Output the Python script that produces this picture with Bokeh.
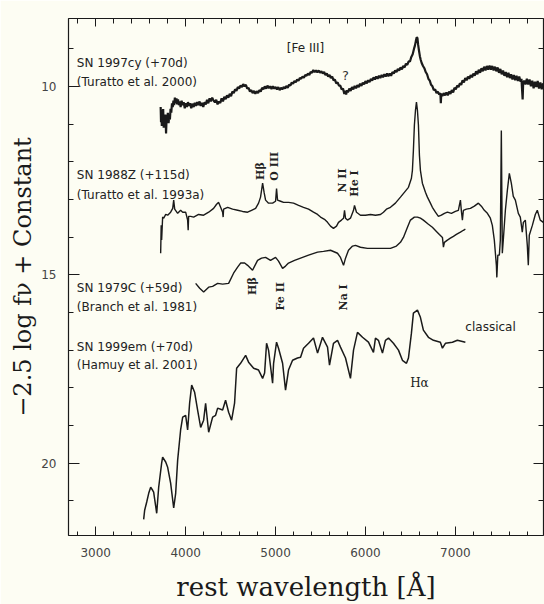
import math
from bokeh.plotting import figure
from bokeh.models import Range1d, LinearAxis, FixedTicker, Label, CustomLabelingPolicy, Title
from bokeh.embed import file_html
from bokeh.resources import INLINE

# ---- spectra: rest wavelength [A] and -2.5 log f_nu + constant ----
sn1997cy_wl = [3722, 3726, 3730, 3735, 3740, 3745, 3750, 3756, 3762, 3768, 3775, 3782, 3788, 3795, 3802, 3810,
               3818, 3825, 3832, 3840, 3848, 3856, 3864, 3872, 3880, 3889, 3898, 3906, 3915, 3925, 3935, 3944,
               3955, 3966, 3978, 3990, 4002, 4014, 4026, 4038, 4050, 4062, 4075, 4089, 4102, 4115, 4128, 4141,
               4155, 4168, 4182, 4196, 4210, 4224, 4238, 4252, 4266, 4280, 4295, 4311, 4326, 4340, 4355, 4370,
               4385, 4400, 4415, 4430, 4445, 4460, 4475, 4490, 4505, 4520, 4535, 4550, 4565, 4580, 4595, 4611,
               4626, 4640, 4655, 4670, 4685, 4700, 4715, 4730, 4745, 4760, 4775, 4790, 4805, 4820, 4835, 4850,
               4865, 4880, 4895, 4910, 4925, 4940, 4955, 4970, 4985, 5000, 5015, 5030, 5045, 5060, 5075, 5090,
               5105, 5120, 5135, 5150, 5165, 5180, 5195, 5210, 5225, 5240, 5255, 5270, 5285, 5300, 5315, 5330,
               5345, 5360, 5375, 5390, 5405, 5420, 5435, 5450, 5465, 5480, 5495, 5510, 5525, 5540, 5555, 5570,
               5585, 5600, 5615, 5630, 5645, 5660, 5675, 5690, 5705, 5720, 5735, 5750, 5765, 5775, 5785, 5795,
               5805, 5820, 5835, 5850, 5865, 5880, 5895, 5910, 5925, 5940, 5955, 5970, 5985, 6000, 6015, 6030,
               6045, 6060, 6075, 6090, 6105, 6120, 6135, 6150, 6165, 6180, 6195, 6210, 6225, 6240, 6255, 6270,
               6285, 6300, 6315, 6330, 6345, 6360, 6375, 6390, 6405, 6420, 6435, 6450, 6465, 6480, 6495, 6510,
               6525, 6540, 6550, 6560, 6570, 6578, 6586, 6595, 6605, 6615, 6625, 6640, 6655, 6670, 6685, 6700,
               6715, 6730, 6745, 6760, 6775, 6790, 6805, 6820, 6833, 6838, 6843, 6855, 6870, 6885, 6900, 6915,
               6930, 6945, 6960, 6975, 6990, 7005, 7020, 7035, 7050, 7065, 7080, 7095, 7110, 7125, 7140, 7155,
               7170, 7185, 7200, 7215, 7230, 7245, 7260, 7275, 7290, 7305, 7320, 7335, 7350, 7365, 7380, 7395,
               7410, 7425, 7440, 7455, 7470, 7485, 7500, 7515, 7530, 7545, 7560, 7575, 7590, 7605, 7620, 7635,
               7650, 7665, 7680, 7695, 7710, 7725, 7735, 7742, 7748, 7754, 7765, 7780, 7795, 7810, 7825, 7840,
               7855, 7870, 7885, 7900, 7915, 7930, 7945, 7960, 7975]
sn1997cy_mag = [10.55, 10.95, 10.62, 11.05, 10.70, 10.85, 10.60, 11.10, 10.80, 11.00, 10.75, 11.25, 10.85, 10.95,
                10.70, 10.98, 10.75, 10.88, 10.60, 10.70, 10.45, 10.55, 10.38, 10.50, 10.30, 10.45, 10.32, 10.48,
                10.35, 10.50, 10.40, 10.55, 10.38, 10.50, 10.42, 10.58, 10.45, 10.55, 10.42, 10.52, 10.45, 10.58,
                10.46, 10.55, 10.44, 10.52, 10.42, 10.50, 10.40, 10.52, 10.44, 10.55, 10.42, 10.48, 10.36, 10.45,
                10.32, 10.40, 10.30, 10.38, 10.42, 10.36, 10.48, 10.40, 10.44, 10.32, 10.40, 10.28, 10.34, 10.24,
                10.30, 10.20, 10.26, 10.14, 10.18, 10.08, 10.12, 10.02, 10.06, 9.98, 10.02, 9.94, 10.00, 9.96,
                10.06, 10.04, 10.14, 10.10, 10.18, 10.12, 10.20, 10.13, 10.18, 10.10, 10.14, 10.04, 10.08, 10.00,
                10.06, 9.98, 10.05, 10.00, 10.07, 10.00, 10.06, 10.02, 10.08, 10.02, 10.10, 10.04, 10.08, 10.02,
                10.06, 9.99, 10.04, 9.96, 9.98, 9.90, 9.93, 9.86, 9.89, 9.82, 9.85, 9.78, 9.80, 9.74, 9.77, 9.70,
                9.72, 9.66, 9.70, 9.62, 9.64, 9.57, 9.62, 9.58, 9.63, 9.58, 9.64, 9.60, 9.66, 9.62, 9.70, 9.66,
                9.74, 9.70, 9.78, 9.74, 9.84, 9.82, 9.92, 9.90, 9.98, 9.98, 10.08, 10.06, 10.20, 10.12, 10.22, 10.10,
                10.16, 10.06, 10.12, 10.02, 10.08, 9.99, 10.05, 9.97, 10.02, 9.93, 9.99, 9.90, 9.95, 9.86, 9.92, 9.84,
                9.89, 9.80, 9.85, 9.76, 9.82, 9.74, 9.80, 9.72, 9.78, 9.70, 9.76, 9.68, 9.74, 9.66, 9.73, 9.66,
                9.72, 9.62, 9.66, 9.58, 9.62, 9.54, 9.58, 9.50, 9.55, 9.46, 9.50, 9.40, 9.43, 9.34, 9.34, 9.22,
                9.15, 9.00, 8.92, 8.80, 8.70, 8.72, 8.90, 9.05, 9.20, 9.30, 9.38, 9.46, 9.52, 9.62, 9.68, 9.80,
                9.85, 9.96, 10.00, 10.10, 10.08, 10.18, 10.14, 10.22, 10.18, 10.45, 10.20, 10.26, 10.18, 10.24, 10.16, 10.24,
                10.14, 10.20, 10.10, 10.16, 10.04, 10.08, 9.98, 10.02, 9.92, 9.96, 9.84, 9.90, 9.78, 9.84, 9.74, 9.80,
                9.70, 9.76, 9.66, 9.72, 9.60, 9.68, 9.56, 9.64, 9.52, 9.60, 9.48, 9.58, 9.46, 9.56, 9.45, 9.56,
                9.46, 9.58, 9.48, 9.60, 9.50, 9.64, 9.54, 9.68, 9.58, 9.72, 9.62, 9.76, 9.64, 9.78, 9.68, 9.82,
                9.70, 9.84, 9.72, 9.86, 9.74, 9.88, 9.80, 10.10, 10.35, 9.90, 9.85, 9.95, 9.80, 9.95, 9.82, 10.00,
                9.85, 10.05, 9.88, 10.02, 9.86, 10.06, 9.90, 10.08, 9.92]

sn1988z_wl = [3722, 3728, 3733, 3744, 3756, 3778, 3800, 3833, 3856, 3867, 3878, 3911, 3944, 3967, 4000, 4022,
              4028, 4033, 4056, 4089, 4144, 4200, 4256, 4311, 4344, 4367, 4389, 4411, 4417, 4422, 4467, 4522,
              4578, 4633, 4689, 4733, 4778, 4811, 4833, 4856, 4872, 4889, 4922, 4967, 5000, 5011, 5022, 5056,
              5089, 5144, 5200, 5256, 5311, 5367, 5422, 5467, 5500, 5544, 5578, 5611, 5644, 5678, 5700, 5733,
              5756, 5767, 5778, 5800, 5833, 5867, 5878, 5900, 5944, 6000, 6056, 6111, 6167, 6200, 6233, 6278,
              6333, 6389, 6444, 6478, 6511, 6522, 6533, 6544, 6556, 6567, 6578, 6589, 6600, 6611, 6633, 6667,
              6689, 6722, 6744, 6778, 6811, 6844, 6878, 6911, 6956, 7000, 7033, 7056, 7067, 7078, 7089, 7122,
              7167, 7211, 7256, 7289, 7322, 7356, 7389, 7411, 7433, 7456, 7461, 7472, 7489, 7500, 7511, 7522,
              7533, 7556, 7578, 7600, 7622, 7644, 7667, 7700, 7722, 7744, 7756, 7778, 7800, 7811, 7822, 7856,
              7889, 7911, 7944, 7978]
sn1988z_mag = [14.43, 13.69, 14.08, 13.47, 13.50, 13.40, 13.42, 13.34, 13.24, 13.02, 13.26, 13.37, 13.29, 13.34,
               13.34, 13.55, 13.82, 13.45, 13.45, 13.47, 13.40, 13.42, 13.34, 13.24, 13.13, 13.08, 13.21, 13.34,
               13.47, 13.26, 13.21, 13.26, 13.29, 13.32, 13.34, 13.29, 13.24, 13.10, 12.94, 12.57, 12.81, 13.02,
               13.10, 13.10, 13.05, 12.71, 13.02, 13.05, 13.08, 13.08, 13.10, 13.16, 13.21, 13.26, 13.34, 13.40,
               13.47, 13.53, 13.61, 13.71, 13.77, 13.71, 13.61, 13.55, 13.50, 13.29, 13.50, 13.55, 13.50, 13.29,
               13.16, 13.34, 13.42, 13.42, 13.40, 13.42, 13.40, 13.34, 13.26, 13.21, 13.10, 12.94, 12.78, 12.68,
               12.44, 12.23, 11.70, 11.03, 10.64, 10.42, 10.64, 11.03, 11.83, 12.23, 12.57, 12.81, 12.94, 13.10,
               13.21, 13.34, 13.45, 13.42, 13.37, 13.34, 13.37, 13.32, 13.29, 13.02, 13.32, 13.55, 13.29, 13.26,
               13.24, 13.18, 13.10, 13.18, 13.29, 13.37, 13.50, 13.69, 14.08, 14.75, 15.07, 14.48, 14.48, 14.08,
               11.17, 14.43, 14.08, 13.29, 12.76, 12.31, 12.57, 12.92, 13.02, 13.37, 13.47, 13.87, 13.61, 13.55,
               14.22, 14.75, 13.95, 13.69, 13.40, 13.29, 13.55, 13.61]

sn1979c_wl = [4111, 4156, 4200, 4256, 4300, 4356, 4411, 4478, 4533, 4578, 4611, 4656, 4689, 4744, 4767, 4800,
              4844, 4889, 4944, 5000, 5033, 5078, 5111, 5144, 5211, 5278, 5367, 5467, 5533, 5611, 5689, 5722,
              5756, 5778, 5811, 5856, 5889, 5944, 6022, 6111, 6189, 6278, 6344, 6389, 6422, 6467, 6500, 6544,
              6578, 6611, 6644, 6700, 6744, 6789, 6822, 6856, 6867, 6878, 6911, 6944, 6978, 7011, 7056, 7089,
              7111]
sn1979c_mag = [15.23, 15.36, 15.46, 15.33, 15.31, 15.23, 15.25, 15.23, 14.96, 14.80, 14.69, 14.69, 14.75, 14.88,
               14.77, 14.62, 14.56, 14.54, 14.62, 14.54, 14.64, 14.83, 14.77, 14.69, 14.62, 14.56, 14.48, 14.40,
               14.38, 14.35, 14.43, 14.54, 14.75, 14.56, 14.35, 14.24, 14.22, 14.27, 14.30, 14.30, 14.30, 14.30,
               14.24, 14.14, 14.01, 13.74, 13.55, 13.47, 13.47, 13.50, 13.55, 13.66, 13.74, 13.85, 13.93, 14.01,
               14.27, 14.14, 14.08, 14.03, 13.98, 13.93, 13.87, 13.82, 13.79]

sn1999em_wl = [3533, 3544, 3567, 3589, 3611, 3633, 3644, 3678, 3700, 3733, 3744, 3778, 3800, 3833, 3867, 3889,
               3911, 3944, 3967, 4000, 4022, 4044, 4067, 4100, 4133, 4167, 4200, 4222, 4256, 4300, 4333, 4356,
               4411, 4444, 4478, 4511, 4544, 4567, 4611, 4667, 4700, 4756, 4811, 4856, 4878, 4900, 4922, 4967,
               4978, 5011, 5033, 5078, 5111, 5144, 5189, 5244, 5278, 5311, 5367, 5422, 5467, 5522, 5578, 5600,
               5644, 5689, 5722, 5778, 5833, 5867, 5911, 5967, 6033, 6089, 6111, 6144, 6189, 6222, 6256, 6311,
               6367, 6411, 6456, 6478, 6511, 6533, 6578, 6611, 6644, 6700, 6756, 6833, 6856, 6889, 6967, 7022,
               7111]
sn1999em_mag = [21.49, 21.25, 21.03, 20.80, 20.64, 20.72, 20.77, 21.33, 20.64, 20.00, 19.84, 19.97, 20.11, 20.53,
                21.19, 20.80, 19.92, 19.12, 18.78, 18.73, 19.12, 18.41, 17.93, 18.12, 18.59, 19.05, 18.86, 18.41,
                19.18, 18.78, 18.73, 18.54, 18.59, 18.33, 18.65, 18.86, 18.41, 17.48, 17.35, 17.14, 17.32, 17.48,
                17.53, 17.75, 17.61, 16.82, 17.00, 17.88, 17.35, 16.79, 16.95, 17.35, 18.06, 17.53, 17.27, 17.21,
                17.19, 16.95, 16.82, 16.68, 17.08, 16.66, 16.92, 17.40, 16.82, 16.74, 16.92, 17.21, 17.75, 17.00,
                16.53, 16.66, 16.79, 17.06, 16.68, 16.74, 17.08, 16.74, 16.68, 16.82, 17.00, 17.27, 17.35, 17.21,
                16.55, 16.02, 15.94, 16.13, 16.47, 16.66, 16.74, 16.79, 16.95, 16.82, 16.79, 16.74, 16.79]

# ---- axis ticks ----
x_major = [3000, 4000, 5000, 6000, 7000]
x_minor = list(range(2800, 8000, 200))
y_major = [10, 15, 20]
y_minor = list(range(9, 22))

BG = "#fdfdf3"
INK = "#1a1a1a"

p = figure(width=544, height=604, output_backend="svg", toolbar_location=None,
           x_range=Range1d(2697, 7980), y_range=Range1d(21.92, 8.20),
           min_border_left=68, min_border_right=1, min_border_top=18, min_border_bottom=69)
p.background_fill_color = BG
p.border_fill_color = BG
p.outline_line_color = INK
p.outline_line_width = 1.2
p.xgrid.visible = False
p.ygrid.visible = False

# spectra
p.line(sn1997cy_wl, sn1997cy_mag, line_color=INK, line_width=2.2)
p.line(sn1988z_wl, sn1988z_mag, line_color=INK, line_width=1.4)
p.line(sn1979c_wl, sn1979c_mag, line_color=INK, line_width=1.4)
p.line(sn1999em_wl, sn1999em_mag, line_color=INK, line_width=1.5)

# mirrored axes carry tick marks only
no_labels = CustomLabelingPolicy(code="return []")

def style_axis(ax, major_len, minor_len, labels=True):
    ax.major_tick_in = major_len
    ax.major_tick_out = 0
    ax.minor_tick_in = minor_len
    ax.minor_tick_out = 0
    ax.major_tick_line_color = INK
    ax.minor_tick_line_color = INK
    ax.axis_line_color = None
    if labels:
        ax.major_label_text_font = "DejaVu Sans"
        ax.major_label_text_font_size = "12px"
        ax.major_label_text_color = "#444444"
        ax.major_label_standoff = 12
        ax.axis_label_text_font = "DejaVu Serif"
        ax.axis_label_text_font_style = "normal"
        ax.axis_label_text_color = INK
    else:
        ax.major_label_policy = no_labels
        ax.major_label_text_font_size = "0px"
        ax.major_label_standoff = 0

xb = p.xaxis[0]
xb.ticker = FixedTicker(ticks=x_major, minor_ticks=x_minor)
style_axis(xb, 9, 4)
xb.axis_label = "rest wavelength [Å]"
xb.axis_label_text_font_size = "26px"
xb.axis_label_standoff = 12

yl = p.yaxis[0]
yl.ticker = FixedTicker(ticks=y_major, minor_ticks=y_minor)
style_axis(yl, 11, 5)

xt = LinearAxis(ticker=FixedTicker(ticks=x_major, minor_ticks=x_minor))
style_axis(xt, 8, 5, labels=False)
p.add_layout(xt, "above")

yr = LinearAxis(ticker=FixedTicker(ticks=y_major, minor_ticks=y_minor))
style_axis(yr, 10, 5, labels=False)
p.add_layout(yr, "right")

# vertical axis title, set a little above the middle of the frame
p.add_layout(Title(text="−2.5 log fν + Constant", align="center", offset=62,
                   text_font="DejaVu Serif", text_font_size="24px", text_font_style="normal",
                   text_color=INK, standoff=4), "left")

# object names and references
sn_names = ["SN 1997cy (+70d)", "(Turatto et al. 2000)",
            "SN 1988Z (+115d)", "(Turatto et al. 1993a)",
            "SN 1979C (+59d)", "(Branch et al. 1981)",
            "SN 1999em (+70d)", "(Hamuy et al. 2001)"]
sn_name_y = [9.39, 9.89, 12.36, 12.89, 15.36, 15.86, 16.92, 17.40]
for txt, yy in zip(sn_names, sn_name_y):
    p.add_layout(Label(x=2790, y=yy, text=txt, text_font="DejaVu Sans", text_font_size="12px",
                       text_color="#222222", text_align="left", text_baseline="middle"))

# line identifications, written vertically
line_ids = ["Hβ", "O III", "N II", "He I", "Hβ", "Fe II", "Na I"]
line_id_x = [4833, 4989, 5744, 5878, 4744, 5056, 5756]
line_id_y = [12.25, 12.12, 12.50, 12.58, 15.30, 15.57, 15.60]
for txt, xx, yy in zip(line_ids, line_id_x, line_id_y):
    p.add_layout(Label(x=xx, y=yy, text=txt, angle=math.pi / 2, text_font="DejaVu Serif",
                       text_font_size="11px", text_font_style="bold", text_color="#222222",
                       text_align="center", text_baseline="middle"))

p.add_layout(Label(x=5333, y=8.99, text="[Fe III]", text_font="DejaVu Sans", text_font_size="12px",
                   text_color="#222222", text_align="center", text_baseline="middle"))
p.add_layout(Label(x=5778, y=9.71, text="?", text_font="DejaVu Sans", text_font_size="13px",
                   text_color="#333333", text_align="center", text_baseline="middle"))
p.add_layout(Label(x=7111, y=16.39, text="classical", text_font="DejaVu Sans", text_font_size="12px",
                   text_color="#222222", text_align="left", text_baseline="middle"))
p.add_layout(Label(x=6600, y=17.88, text="Hα", text_font="DejaVu Serif", text_font_size="12px",
                   text_color="#222222", text_align="center", text_baseline="middle"))

open("out.html", "w").write(file_html(p, INLINE))
